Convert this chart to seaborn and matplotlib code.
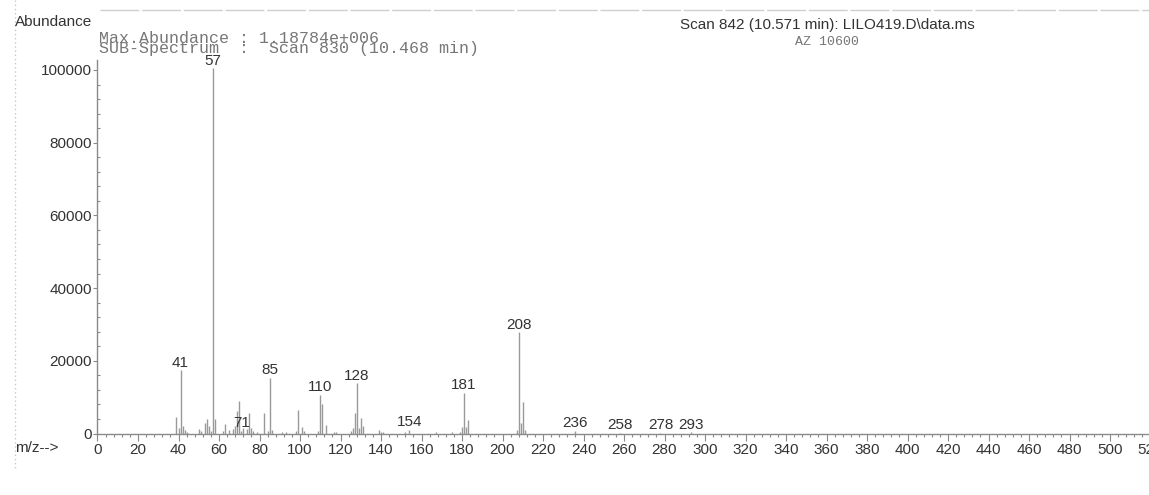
import matplotlib.pyplot as plt
import seaborn as sns
from matplotlib.ticker import MultipleLocator, FormatStrFormatter

# m/z values and abundances
mz = [39, 40, 41, 42, 43, 44, 50, 51, 53, 54, 55, 56, 57, 58, 62, 63, 65, 67, 68,
      69, 70, 71, 72, 74, 75, 76, 77, 79, 82, 84, 85, 86, 91, 93, 98, 99, 101, 102,
      109, 110, 111, 113, 117, 118, 125, 126, 127, 128, 129, 130, 131, 139, 140,
      141, 152, 154, 167, 175, 179, 180, 181, 182, 183, 207, 208, 209, 210, 211,
      236, 258, 278, 293]
abundance = [4600, 1500, 17400, 2000, 1000, 400, 1200, 700, 2800, 3900, 2200, 800,
             100500, 4100, 600, 2700, 1000, 1200, 2000, 6200, 8900, 700, 1500, 1200,
             5600, 1600, 800, 400, 5700, 700, 15400, 900, 400, 300, 600, 6600, 1700,
             600, 800, 10700, 8200, 2300, 500, 400, 800, 1500, 5700, 13900, 1500, 4400,
             2000, 1100, 500, 500, 300, 1000, 300, 400, 500, 1900, 11200, 1900, 3700,
             1000, 27900, 3000, 8600, 1000, 700, 150, 150, 300]
label_mz = [41, 57, 71, 85, 110, 128, 154, 181, 208, 236, 258, 278, 293]

sns.set_style('ticks')
plt.rcParams['font.family'] = ['Liberation Sans', 'DejaVu Sans']

W, H = 1149, 495
fig = plt.figure(figsize=(W / 100, H / 100), dpi=100)
ax = fig.add_axes([97.5 / W, 61.5 / H, 522 * 2.025 / W, 373.5 / H])

grey = '#8a8a8a'
text_c = '#333333'

# spectrum sticks
ax.vlines(mz, 0, abundance, color='#999999', lw=1)

# peak labels
lookup = dict(zip(mz, abundance))
for m in label_mz:
    ax.annotate(str(m), (m, lookup[m]), xytext=(0, 2.5), textcoords='offset points',
                ha='center', va='baseline', fontsize=11, color=text_c)

ax.set_xlim(0, 522)
ax.set_ylim(0, 102750)
ax.xaxis.set_major_locator(MultipleLocator(20))
ax.xaxis.set_minor_locator(MultipleLocator(4))
ax.yaxis.set_major_locator(MultipleLocator(20000))
ax.yaxis.set_minor_locator(MultipleLocator(4000))
ax.yaxis.set_major_formatter(FormatStrFormatter('%d'))

sns.despine(ax=ax)
for side in ['left', 'bottom']:
    ax.spines[side].set_color(grey)
    ax.spines[side].set_linewidth(1)

ax.tick_params(axis='x', which='major', direction='out', length=5, width=0.8,
               color=grey, labelsize=11, labelcolor=text_c, pad=2)
ax.tick_params(axis='x', which='minor', direction='out', length=2.5, width=0.8, color=grey)
ax.tick_params(axis='y', which='major', direction='out', length=3, width=0.8,
               color=grey, labelsize=11, labelcolor=text_c, pad=1)
ax.tick_params(axis='y', which='minor', direction='in', length=2, width=0.8, color=grey)

# header texts
fig.text(15 / W, 1 - 26 / H, 'Abundance', fontsize=11, color=text_c, va='baseline')
fig.text(15 / W, 1 - 452 / H, 'm/z-->', fontsize=11, color=text_c, va='baseline')
fig.text(827 / W, 1 - 29 / H, 'Scan 842 (10.571 min): LILO419.D\\data.ms',
         fontsize=11, color=text_c, ha='center', va='baseline')
fig.text(827 / W, 1 - 45 / H, 'AZ 10600', fontsize=9.5, color='#777777',
         ha='center', va='baseline', family='Liberation Mono')
fig.text(99 / W, 1 - 43 / H, 'Max.Abundance : 1.18784e+006', fontsize=12,
         color='#777777', va='baseline', family='Liberation Mono')
fig.text(99 / W, 1 - 53 / H, 'SUB-Spectrum  :  Scan 830 (10.468 min)', fontsize=12,
         color='#777777', va='baseline', family='Liberation Mono')
fig.text(70 / W, 1 + 3 / H, 'AZ 10600', fontsize=16, color='#555555', va='baseline')

# page frame lines
fig.add_artist(plt.Line2D([100 / W, 1], [1 - 10 / H] * 2, transform=fig.transFigure,
                          color='#cfcfcf', lw=1, ls=(0, (28, 2))))
fig.add_artist(plt.Line2D([15 / W] * 2, [1, 1 - 468 / H], transform=fig.transFigure,
                          color='#c8c8c8', lw=1, ls=(0, (1, 2))))

fig.savefig('out.png', dpi=100)
